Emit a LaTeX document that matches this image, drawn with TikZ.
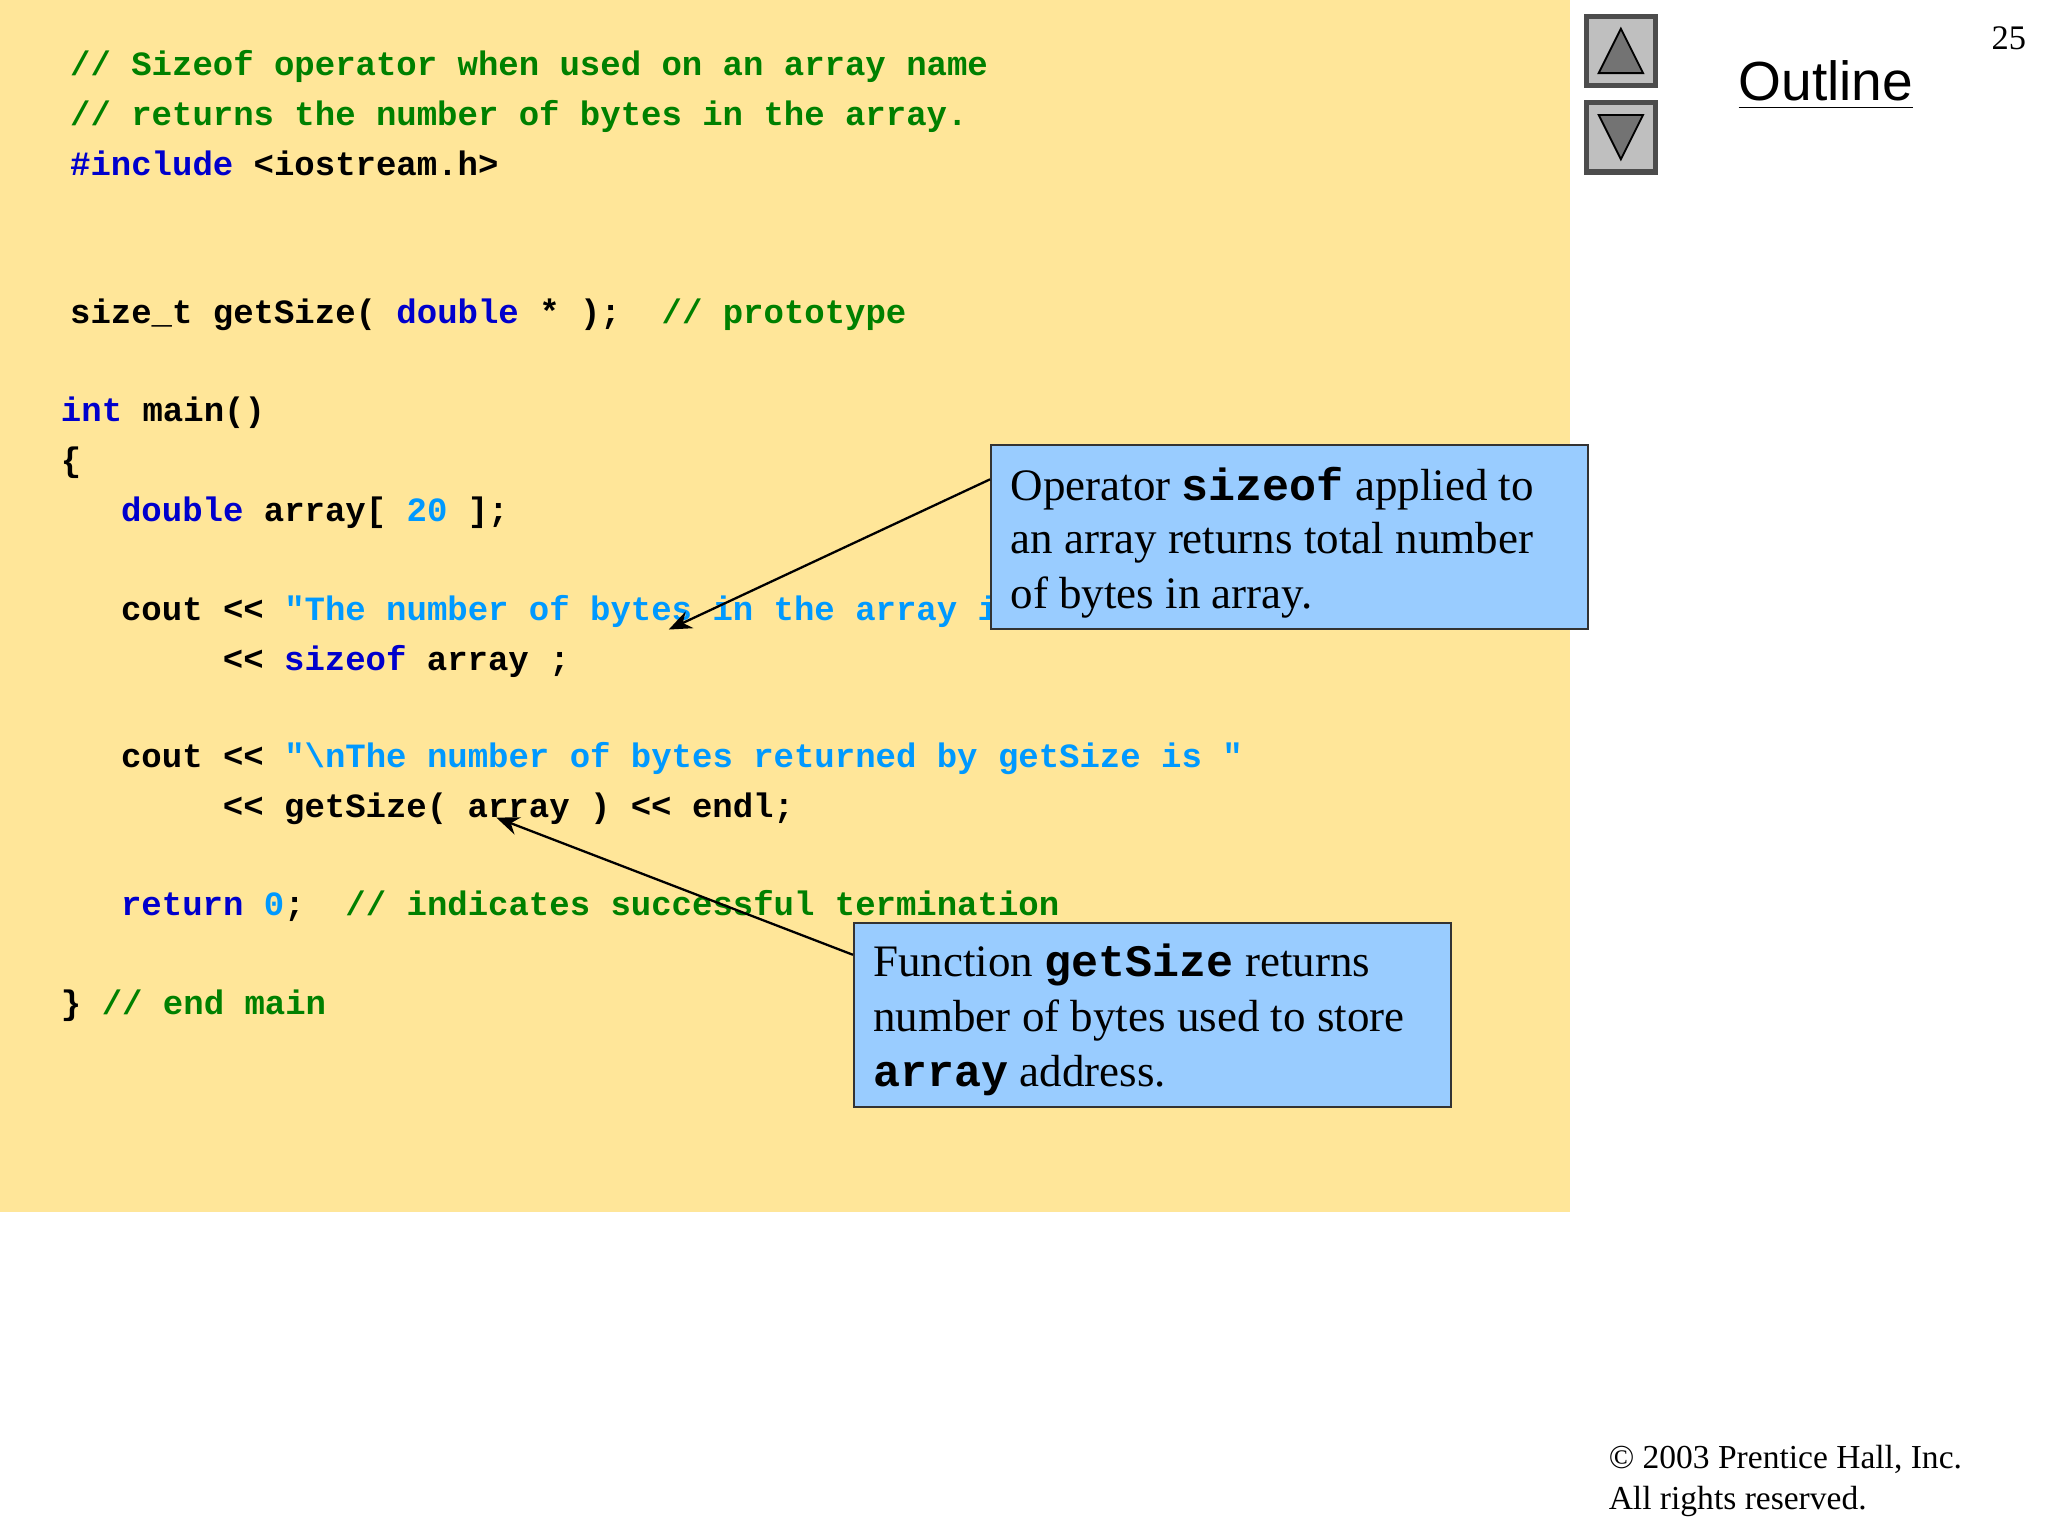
\documentclass[tikz,border=0pt]{standalone}
\usepackage{fontspec}
\setmainfont{Liberation Serif}
\setmonofont{Liberation Mono}
\setsansfont{DejaVu Sans}
\definecolor{bgy}{HTML}{FFE699}
\definecolor{boxb}{HTML}{99CCFF}
\definecolor{cgreen}{HTML}{008000}
\definecolor{ckwc}{HTML}{0000CC}
\definecolor{cstrc}{HTML}{0099FF}
\newcommand\cgrn[1]{\textcolor{cgreen}{#1}}
\newcommand\ckw[1]{\textcolor{ckwc}{#1}}
\newcommand\cstr[1]{\textcolor{cstrc}{#1}}
\tikzset{code/.style={anchor=base west,inner sep=0pt,font=\ttfamily\bfseries\fontsize{7.4}{10}\selectfont},
 callout/.style={draw=black!80,line width=0.4pt,fill=boxb,anchor=north west,inner sep=0pt,minimum width=4.57cm,minimum height=1.41cm},
 ctext/.style={anchor=base west,inner sep=0pt,font=\fontsize{9.8}{12}\selectfont},
 arr/.style={-{Stealth[length=5pt,width=4pt]},line width=0.5pt}}
\usetikzlibrary{arrows.meta}
\begin{document}
\begin{tikzpicture}[x=0.01cm,y=-0.01cm]
\useasboundingbox (0,0) rectangle (1568,1176);
\fill[bgy] (0,0) rectangle (1202,928);
\node[code] (l1) at (53,58) {\cgrn{// Sizeof operator when used on an array name}};
\node[code] (l2) at (53,96) {\cgrn{// returns the number of bytes in the array.}};
\node[code] (l3) at (53,134) {\ckw{\#include} <iostream.h>};
\node[code] (l4) at (53,248) {size\_t getSize( \ckw{double} * );\ \ \cgrn{// prototype}};
\node[code] (l5) at (46,323) {\ckw{int} main()};
\node[code] (l6) at (46,361) {\{};
\node[code] (l7) at (92,399) {\ckw{double} array[ \cstr{20} ];};
\node[code] (l8) at (92,475) {cout << \cstr{"The number of bytes in the array is "}};
\node[code] (l9) at (170,513) {<< \ckw{sizeof} array ;};
\node[code] (l10) at (92,588) {cout << \cstr{"\textbackslash nThe number of bytes returned by getSize is "}};
\node[code] (l11) at (170,626) {<< getSize( array ) << endl;};
\node[code] (l12) at (92,701) {\ckw{return} \cstr{0};\ \ \cgrn{// indicates successful termination}};
\node[code] (l13) at (46,777) {\} \cgrn{// end main}};
% callout 1
\node[callout] (c1) at (758,340) {};
\node[ctext] (c1a) at (773,383) {Operator \texttt{\bfseries sizeof} applied to};
\node[ctext] (c1b) at (773,424) {an array returns total number};
\node[ctext] (c1c) at (773,466) {of bytes in array.};
\coordinate (t1) at (512,482);
\draw[arr] (c1.west |- 0,367) -- (t1);
% callout 2
\node[callout] (c2) at (653,706) {};
\node[ctext] (c2a) at (668,748) {Function \texttt{\bfseries getSize} returns};
\node[ctext] (c2b) at (668,790) {number of bytes used to store};
\node[ctext] (c2c) at (668,832) {\texttt{\bfseries array} address.};
\coordinate (t2) at (380,626);
\draw[arr] (c2.west |- 0,731) -- (t2);
% nav buttons
\node[draw=black!70,line width=1.2pt,fill=black!25,minimum size=0.53cm,inner sep=0pt] (up) at (1241,39) {};
\node[draw=black!70,line width=1.2pt,fill=black!25,minimum size=0.53cm,inner sep=0pt] (dn) at (1241,105) {};
\fill[black!55,draw=black] (1224,56) -- (1258,56) -- (1241,22) -- cycle;
\fill[black!55,draw=black] (1224,88) -- (1258,88) -- (1241,122) -- cycle;
\node[anchor=base,font=\fontspec{Liberation Sans}\fontsize{12}{13}\selectfont,inner sep=0pt] (out) at (1398,77) {\underline{Outline}};
\node[anchor=base east,font=\fontsize{7.5}{9}\selectfont,inner sep=0pt] (pg) at (1552,38) {25};
\node[anchor=base west,font=\fontsize{7.3}{9}\selectfont,inner sep=0pt] (cp1) at (1231,1124) {© 2003 Prentice Hall, Inc.};
\node[anchor=base west,font=\fontsize{7.3}{9}\selectfont,inner sep=0pt] (cp2) at (1231,1156) {All rights reserved.};
\end{tikzpicture}
\end{document}
